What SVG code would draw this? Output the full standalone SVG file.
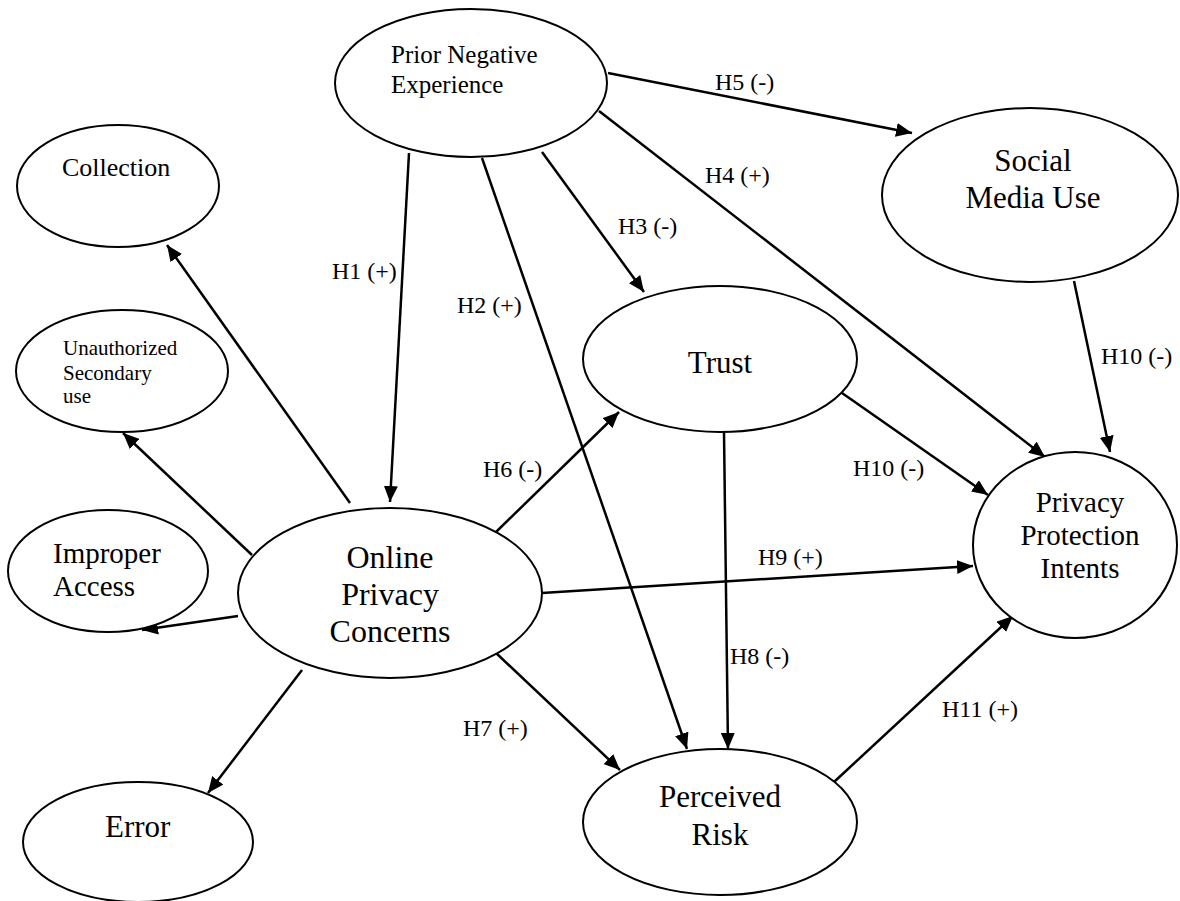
<svg xmlns="http://www.w3.org/2000/svg" width="1180" height="901" viewBox="0 0 1180 901">
  <style>
    .node { fill: #ffffff; stroke: #000000; stroke-width: 2; }
    .lbl { font-family: "Liberation Serif", "Times New Roman", serif; fill: #000000; }
    .edge { stroke: #000000; stroke-width: 2.5; fill: none; marker-end: url(#arrow); }
    .plain { stroke: #000000; stroke-width: 2.5; fill: none; }
    .h { font-family: "Liberation Serif", "Times New Roman", serif; font-size: 24px; fill: #000000; }
  </style>
  <defs>
    <marker id="arrow" viewBox="0 0 16 14" refX="16" refY="7" markerWidth="16" markerHeight="14" markerUnits="userSpaceOnUse" orient="auto">
      <path d="M0,0 L16,7 L0,14 Z" fill="#000000"/>
    </marker>
  </defs>
  <rect x="0" y="0" width="1180" height="901" fill="#ffffff"/>

  <!-- connectors -->
  <g id="connectors">
    <!-- from Prior Negative Experience -->
    <line class="edge" x1="409" y1="153" x2="390" y2="502"/>
    <line class="edge" x1="482" y1="158" x2="687" y2="749"/>
    <line class="edge" x1="542" y1="152" x2="644" y2="292"/>
    <line class="edge" x1="599" y1="111" x2="1045" y2="457"/>
    <line class="edge" x1="608" y1="73" x2="912" y2="133"/>
    <!-- from Online Privacy Concerns to its dimensions -->
    <line class="edge" x1="350" y1="503" x2="167" y2="245"/>
    <line class="edge" x1="252" y1="555" x2="123" y2="433"/>
    <line class="edge" x1="238" y1="616" x2="142" y2="630"/>
    <line class="edge" x1="302" y1="670" x2="208" y2="793"/>
    <!-- from Online Privacy Concerns -->
    <line class="edge" x1="495" y1="533" x2="619" y2="412"/>
    <line class="edge" x1="542" y1="593" x2="973" y2="566"/>
    <line class="edge" x1="495" y1="652" x2="620" y2="770"/>
    <!-- from Trust -->
    <line class="edge" x1="842" y1="393" x2="988" y2="495"/>
    <line class="edge" x1="724" y1="432" x2="728" y2="749"/>
    <!-- from Social Media Use -->
    <line class="edge" x1="1074" y1="281" x2="1110" y2="452"/>
    <!-- from Perceived Risk -->
    <line class="edge" x1="834" y1="782" x2="1013" y2="616"/>
  </g>

  <!-- hypothesis labels -->
  <g id="edge-labels">
    <text class="h" x="332" y="279">H1 (+)</text>
    <text class="h" x="457" y="313">H2 (+)</text>
    <text class="h" x="618" y="234">H3 (-)</text>
    <text class="h" x="705" y="183">H4 (+)</text>
    <text class="h" x="715" y="90">H5 (-)</text>
    <text class="h" x="483" y="477">H6 (-)</text>
    <text class="h" x="463" y="736">H7 (+)</text>
    <text class="h" x="730" y="664">H8 (-)</text>
    <text class="h" x="758" y="565">H9 (+)</text>
    <text class="h" x="853" y="476">H10 (-)</text>
    <text class="h" x="1101" y="364">H10 (-)</text>
    <text class="h" x="942" y="717">H11 (+)</text>
  </g>

  <!-- nodes -->
  <g id="prior-negative-experience">
    <ellipse class="node" cx="471" cy="83" rx="136" ry="74"/>
    <text class="lbl" font-size="25" x="391" y="63">Prior Negative</text>
    <text class="lbl" font-size="25" x="391" y="93">Experience</text>
  </g>

  <g id="collection">
    <ellipse class="node" cx="118" cy="186" rx="101" ry="61"/>
    <text class="lbl" font-size="26" x="62" y="176">Collection</text>
  </g>

  <g id="unauthorized-secondary-use">
    <ellipse class="node" cx="122" cy="371" rx="106" ry="61"/>
    <text class="lbl" font-size="21" x="63" y="355">Unauthorized</text>
    <text class="lbl" font-size="21" x="63" y="380">Secondary</text>
    <text class="lbl" font-size="21" x="63" y="403">use</text>
  </g>

  <g id="improper-access">
    <ellipse class="node" cx="108" cy="571" rx="100" ry="61"/>
    <text class="lbl" font-size="29" x="53" y="563">Improper</text>
    <text class="lbl" font-size="29" x="53" y="596">Access</text>
  </g>

  <g id="error">
    <ellipse class="node" cx="138" cy="842" rx="115" ry="60"/>
    <text class="lbl" font-size="31" x="105" y="837">Error</text>
  </g>

  <g id="online-privacy-concerns">
    <ellipse class="node" cx="390" cy="593" rx="152" ry="85"/>
    <text class="lbl" font-size="32" text-anchor="middle" x="390" y="568">Online</text>
    <text class="lbl" font-size="32" text-anchor="middle" x="390" y="605">Privacy</text>
    <text class="lbl" font-size="32" text-anchor="middle" x="390" y="642">Concerns</text>
  </g>

  <g id="trust">
    <ellipse class="node" cx="720" cy="359" rx="137" ry="73"/>
    <text class="lbl" font-size="31" text-anchor="middle" x="720" y="373">Trust</text>
  </g>

  <g id="social-media-use">
    <ellipse class="node" cx="1030" cy="195" rx="148" ry="87"/>
    <text class="lbl" font-size="31" text-anchor="middle" x="1033" y="171">Social</text>
    <text class="lbl" font-size="31" text-anchor="middle" x="1033" y="208">Media Use</text>
  </g>

  <g id="privacy-protection-intents">
    <ellipse class="node" cx="1075" cy="545" rx="102" ry="93"/>
    <text class="lbl" font-size="29" text-anchor="middle" x="1080" y="512">Privacy</text>
    <text class="lbl" font-size="29" text-anchor="middle" x="1080" y="545">Protection</text>
    <text class="lbl" font-size="29" text-anchor="middle" x="1080" y="578">Intents</text>
  </g>

  <g id="perceived-risk">
    <ellipse class="node" cx="720" cy="822" rx="137" ry="73"/>
    <text class="lbl" font-size="31" text-anchor="middle" x="720" y="807">Perceived</text>
    <text class="lbl" font-size="31" text-anchor="middle" x="720" y="845">Risk</text>
  </g>
</svg>
